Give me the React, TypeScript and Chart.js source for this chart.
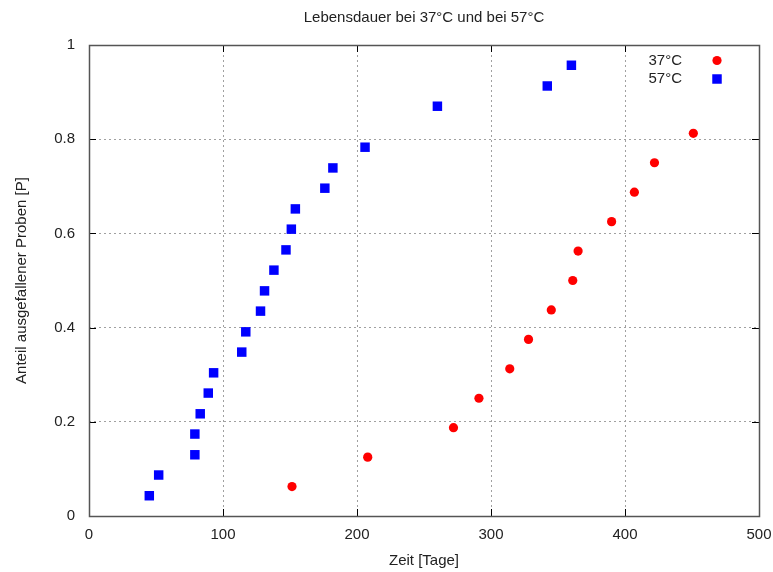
import React, { useEffect, useRef } from "react";
import { Chart, registerables } from "chart.js";

Chart.register(...registerables);

// Lifetime data: time in days vs. cumulative failed fraction
const days37 = [151.5, 208, 272, 291, 314, 328, 345, 361, 365, 390, 407, 422, 451];
const share37 = [0.0625, 0.125, 0.1875, 0.25, 0.3125, 0.375, 0.4375, 0.5, 0.5625, 0.625, 0.6875, 0.75, 0.8125];

const days57 = [45, 52, 79, 79, 83, 89, 93, 114, 117, 128, 131, 138, 147, 151, 154, 176, 182, 206, 260, 342, 360];
const share57 = [0.043, 0.087, 0.13, 0.174, 0.217, 0.261, 0.304, 0.348, 0.391, 0.435, 0.478, 0.522, 0.565, 0.609, 0.652, 0.696, 0.739, 0.783, 0.87, 0.913, 0.957];

const seriesLabels = ["37°C", "57°C"];
const titleText = "Lebensdauer bei 37°C und bei 57°C";
const xTitle = "Zeit [Tage]";
const yTitle = "Anteil ausgefallener Proben [P]";
const xTicks = [0, 100, 200, 300, 400, 500];
const yTicks = [0, 0.2, 0.4, 0.6, 0.8, 1];

const FONT = "'Liberation Sans', Arial, sans-serif";
const TEXT = "#222222";

// Frame, inward tick marks and an in-plot key
const framePlugin = {
  id: "frame",
  afterDatasetsDraw(chart: any) {
    const { ctx, chartArea } = chart;
    const { left, right, top, bottom } = chartArea;
    const xs = chart.scales.x;
    const ys = chart.scales.y;
    ctx.save();
    ctx.strokeStyle = "#000000";
    ctx.lineWidth = 1;
    const tl = 7;
    ctx.beginPath();
    for (const v of xTicks) {
      const px = Math.round(xs.getPixelForValue(v)) + 0.5;
      ctx.moveTo(px, bottom);
      ctx.lineTo(px, bottom - tl);
      ctx.moveTo(px, top);
      ctx.lineTo(px, top + tl);
    }
    for (const v of yTicks) {
      const py = Math.round(ys.getPixelForValue(v)) + 0.5;
      ctx.moveTo(left, py);
      ctx.lineTo(left + tl, py);
      ctx.moveTo(right, py);
      ctx.lineTo(right - tl, py);
    }
    ctx.stroke();
    ctx.strokeStyle = "#555555";
    ctx.lineWidth = 1.5;
    ctx.strokeRect(Math.round(left) + 0.5, Math.round(top) + 0.5, Math.round(right - left), Math.round(bottom - top));

    // key
    ctx.font = `15px ${FONT}`;
    ctx.textAlign = "right";
    ctx.textBaseline = "middle";
    const textRight = right - 77;
    const markX = right - 42;
    chart.data.datasets.forEach((ds: any, i: number) => {
      const y = top + 15.5 + i * 18.5;
      ctx.fillStyle = TEXT;
      ctx.fillText(ds.label, textRight, y);
      ctx.fillStyle = ds.backgroundColor;
      if (ds.pointStyle === "rect") {
        const s = ds.pointRadius * Math.SQRT1_2;
        ctx.fillRect(markX - s, y - s, 2 * s, 2 * s);
      } else {
        ctx.beginPath();
        ctx.arc(markX, y, ds.pointRadius, 0, Math.PI * 2);
        ctx.fill();
      }
    });
    ctx.restore();
  },
};

export default function App() {
  const ref = useRef<HTMLCanvasElement | null>(null);

  useEffect(() => {
    if (!ref.current) return;
    const chart = new Chart(ref.current, {
      type: "scatter",
      data: {
        datasets: [
          {
            label: seriesLabels[0],
            data: days37.map((x, i) => ({ x, y: share37[i] })),
            pointStyle: "circle",
            pointRadius: 4.6,
            pointHoverRadius: 4.6,
            borderWidth: 0,
            backgroundColor: "#ff0000",
            borderColor: "#ff0000",
          },
          {
            label: seriesLabels[1],
            data: days57.map((x, i) => ({ x, y: share57[i] })),
            pointStyle: "rect",
            pointRadius: 6.7,
            pointHoverRadius: 6.7,
            borderWidth: 0,
            backgroundColor: "#0000ff",
            borderColor: "#0000ff",
          },
        ],
      },
      options: {
        responsive: false,
        animation: false,
        devicePixelRatio: 1,
        layout: { padding: { left: 0, right: 14, top: 0, bottom: 0 } },
        font: { family: FONT, size: 15 },
        plugins: {
          legend: { display: false },
          tooltip: { enabled: false },
          title: {
            display: true,
            text: titleText,
            fullSize: false,
            color: TEXT,
            font: { family: FONT, size: 15, weight: "normal" },
            padding: { top: 8.5, bottom: 18.5 },
          },
        },
        scales: {
          x: {
            type: "linear",
            min: 0,
            max: 500,
            afterBuildTicks(scale: any) {
              scale.ticks = xTicks.map((v) => ({ value: v }));
            },
            afterFit(scale: any) {
              scale.height = 56;
              scale.paddingLeft = 0;
              scale.paddingRight = 0;
            },
            grid: { color: "#a0a0a0", lineWidth: 1, drawTicks: false },
            border: { display: false, dash: [2, 3] },
            ticks: { color: TEXT, font: { family: FONT, size: 15 }, padding: 10 },
            title: {
              display: true,
              text: xTitle,
              color: TEXT,
              font: { family: FONT, size: 15 },
              padding: { top: 0, bottom: 2 },
            },
          },
          y: {
            type: "linear",
            min: 0,
            max: 1,
            afterBuildTicks(scale: any) {
              scale.ticks = yTicks.map((v) => ({ value: v }));
            },
            afterFit(scale: any) {
              scale.width = 89;
              scale.paddingTop = 0;
              scale.paddingBottom = 0;
            },
            grid: { color: "#a0a0a0", lineWidth: 1, drawTicks: false },
            border: { display: false, dash: [2, 3] },
            ticks: {
              color: TEXT,
              font: { family: FONT, size: 15 },
              padding: 14,
              callback: (v: any) => String(Math.round(Number(v) * 10) / 10),
            },
            title: {
              display: true,
              text: yTitle,
              color: TEXT,
              font: { family: FONT, size: 15 },
              padding: { top: 13, bottom: 0 },
            },
          },
        },
      },
      plugins: [framePlugin],
    });
    return () => chart.destroy();
  }, []);

  return (
    <div style={{ position: "absolute", left: 0, top: 0, width: 773, height: 572, background: "#ffffff" }}>
      <canvas ref={ref} width={773} height={572} />
    </div>
  );
}
